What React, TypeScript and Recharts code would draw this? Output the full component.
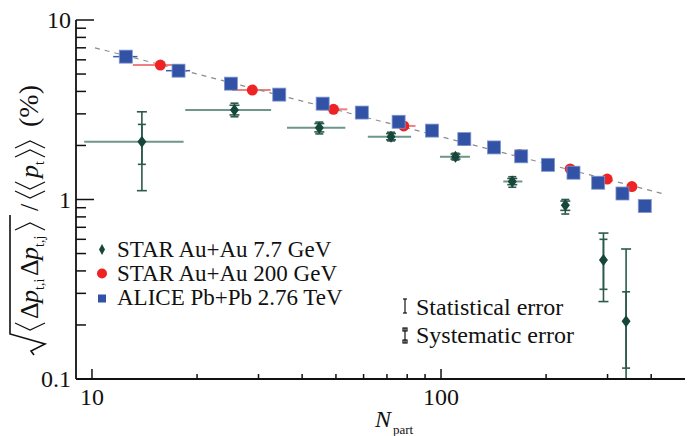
import React from "react";
import { ScatterChart, Scatter, XAxis, YAxis, ErrorBar } from "recharts";

const FONT = "'Liberation Serif', Tinos, 'DejaVu Serif', 'Times New Roman', serif";
const INK = "#111";

// STAR Au+Au 7.7 GeV
const STAR7_N = [13.9, 25.6, 44.8, 71.9, 110, 160, 227, 292, 339];
const STAR7_V = [2.1, 3.15, 2.51, 2.24, 1.73, 1.26, 0.93, 0.46, 0.21];
const STAR7_N_LO = [9.5, 18.5, 36.2, 61.7, 99.3, 150.8, 222, 287, 334];
const STAR7_N_HI = [18.3, 32.6, 53.2, 82.1, 121, 171, 233, 297, 344];
const STAR7_STAT_LO = [1.12, 2.96, 2.38, 2.15, 1.68, 1.21, 0.87, 0.27, 0.1];
const STAR7_STAT_HI = [3.08, 3.35, 2.65, 2.33, 1.79, 1.31, 0.98, 0.65, 0.53];
const STAR7_SYS_LO = [1.57, 2.89, 2.32, 2.12, 1.66, 1.17, 0.83, 0.316, 0.115];
const STAR7_SYS_HI = [2.62, 3.44, 2.7, 2.37, 1.81, 1.34, 1.0, 0.6, 0.306];

// STAR Au+Au 200 GeV
const STAR200_N = [15.7, 28.8, 49.2, 78.2, 116.8, 167.9, 234.5, 299.2, 352.2];
const STAR200_V = [5.61, 4.07, 3.18, 2.57, 2.13, 1.78, 1.48, 1.3, 1.18];
const STAR200_N_LO = [13.1, 25.2, 44.9, 73.5, 112.5, 164.5, 231, 296, 349];
const STAR200_N_HI = [18.2, 32.5, 53.9, 84.5, 121.6, 171.5, 238, 302.5, 355.5];

// ALICE Pb+Pb 2.76 TeV
const ALICE_N = [12.5, 17.7, 25.0, 34.4, 45.8, 59.3, 75.6, 94.2, 116.6, 141.8, 169.7, 202.5, 239.6, 282, 331, 383.5];
const ALICE_V = [6.25, 5.22, 4.42, 3.84, 3.42, 3.05, 2.71, 2.42, 2.17, 1.95, 1.74, 1.56, 1.41, 1.24, 1.08, 0.92];
const ALICE_N_LO = [11.5, 16.3, 24.0, 33.2, 44.3, 57.7, 73.8, 92.3, 114.5, 139.5, 167.3, 200, 237, 279, 328, 380];
const ALICE_N_HI = [13.5, 19.1, 26.0, 35.6, 47.3, 60.9, 77.4, 96.1, 118.7, 144.1, 172.1, 205, 242, 285, 334, 387];

// power-law guide line (end points)
const FIT_N = [10.2, 438];
const FIT_V = [7.0, 1.07];

const X_TICKS = [10, 20, 30, 40, 50, 60, 70, 80, 90, 100, 200, 300, 400];
const X_MAJOR = [10, 100];
const Y_TICKS = [0.1, 0.2, 0.3, 0.4, 0.5, 0.6, 0.7, 0.8, 0.9, 1, 2, 3, 4, 5, 6, 7, 8, 9, 10];
const Y_MAJOR = [0.1, 1, 10];

const LEGEND = ["STAR Au+Au 7.7 GeV", "STAR Au+Au 200 GeV", "ALICE Pb+Pb 2.76 TeV"];

const star7 = STAR7_N.map((n, i) => ({
  n,
  v: STAR7_V[i],
  nErr: [n - STAR7_N_LO[i], STAR7_N_HI[i] - n],
  stat: [STAR7_V[i] - STAR7_STAT_LO[i], STAR7_STAT_HI[i] - STAR7_V[i]],
  sys: [STAR7_V[i] - STAR7_SYS_LO[i], STAR7_SYS_HI[i] - STAR7_V[i]],
}));
const star200 = STAR200_N.map((n, i) => ({
  n,
  v: STAR200_V[i],
  nErr: [n - STAR200_N_LO[i], STAR200_N_HI[i] - n],
}));
const alice = ALICE_N.map((n, i) => ({
  n,
  v: ALICE_V[i],
  nErr: [n - ALICE_N_LO[i], ALICE_N_HI[i] - n],
}));
const fit = FIT_N.map((n, i) => ({ n, v: FIT_V[i] }));

const GREEN = "#17463a";
const RED = "#ee2424";
const BLUE = "#3252a6";

const txt = { fontFamily: FONT };

const Diamond = ({ cx, cy }: any) => (
  <polygon points={`${cx},${cy - 6} ${cx + 4.5},${cy} ${cx},${cy + 6} ${cx - 4.5},${cy}`} fill={GREEN} />
);
const Dot = ({ cx, cy }: any) => <circle cx={cx} cy={cy} r={5.5} fill={RED} />;
const Square = ({ cx, cy }: any) => (
  <rect x={cx - 6.5} y={cy - 6.5} width={13} height={13} fill={BLUE} stroke="#7f95cf" strokeWidth={0.8} />
);

function YTick({ x, y, payload }: any) {
  const major = Y_MAJOR.includes(payload.value);
  return (
    <g>
      <line x1={x} x2={x + (major ? 18 : 10)} y1={y} y2={y} stroke={INK} strokeWidth={1.5} />
      {major && (
        <text x={x - 5} y={y + 8} textAnchor="end" fontSize={24} style={txt} fill={INK}>
          {String(payload.value)}
        </text>
      )}
    </g>
  );
}

function XTick({ x, y, payload }: any) {
  const major = X_MAJOR.includes(payload.value);
  return (
    <g>
      <line x1={x} x2={x} y1={y} y2={y - (major ? 10 : 5)} stroke={INK} strokeWidth={1.5} />
      {major && (
        <text x={x} y={y + 26} textAnchor="middle" fontSize={24} style={txt} fill={INK}>
          {String(payload.value)}
        </text>
      )}
    </g>
  );
}

const lbr = (x: number) => `M${x + 7},-23 L${x},-8 L${x + 7},7`;
const rbr = (x: number) => `M${x},-23 L${x + 7},-8 L${x},7`;

function Overlay() {
  return (
    <svg width={693} height={436} style={{ position: "absolute", left: 0, top: 0, pointerEvents: "none", ...txt }}>
      {/* y-axis title */}
      <g transform="translate(38,213) rotate(-90)" fill={INK}>
        <path d="M-142,-4 L-138,-7 L-131,7 L-121,-28 L-2,-28" fill="none" stroke={INK} strokeWidth={1.6} />
        <path d={lbr(-117)} fill="none" stroke={INK} strokeWidth={1.2} />
        <text x={-106} y={0} fontSize={26} style={txt}>Δ</text>
        <text x={-90} y={0} fontSize={26} fontStyle="italic" style={txt}>p</text>
        <text x={-77} y={6} fontSize={14} style={txt}>t,i</text>
        <text x={-63} y={0} fontSize={26} style={txt}>Δ</text>
        <text x={-47} y={0} fontSize={26} fontStyle="italic" style={txt}>p</text>
        <text x={-34} y={6} fontSize={14} style={txt}>t,j</text>
        <path d={rbr(-17)} fill="none" stroke={INK} strokeWidth={1.2} />
        <text x={2} y={0} fontSize={26} style={txt}>/</text>
        <path d={lbr(15)} fill="none" stroke={INK} strokeWidth={1.2} />
        <path d={lbr(24)} fill="none" stroke={INK} strokeWidth={1.2} />
        <text x={35} y={0} fontSize={26} fontStyle="italic" style={txt}>p</text>
        <text x={48} y={6} fontSize={14} style={txt}>t</text>
        <path d={rbr(56)} fill="none" stroke={INK} strokeWidth={1.2} />
        <path d={rbr(65)} fill="none" stroke={INK} strokeWidth={1.2} />
        <text x={86} y={0} fontSize={28} style={txt}>(%)</text>
      </g>

      {/* x-axis title */}
      <text x={375} y={427} fontSize={24} fontStyle="italic" style={txt} fill={INK}>N</text>
      <text x={393} y={434} fontSize={13} style={txt} fill={INK}>part</text>

      {/* series legend */}
      <polygon points="102,244 105,249.5 102,255 99,249.5" fill={GREEN} />
      <circle cx={102} cy={273.5} r={5} fill={RED} />
      <rect x={98} y={294.5} width={8} height={8} fill={BLUE} />
      {LEGEND.map((t, i) => (
        <text key={t} x={117} y={257 + i * 24} fontSize={23} style={txt} fill={INK}>
          {t}
        </text>
      ))}

      {/* error legend */}
      <g stroke={INK} strokeWidth={1.2} fill="none">
        <line x1={405} x2={405} y1={299} y2={313} />
        <line x1={403} x2={407} y1={299} y2={299} />
        <line x1={403} x2={407} y1={313} y2={313} />
        <line x1={405} x2={405} y1={328} y2={343} />
        <rect x={403} y={328} width={4} height={3} />
        <rect x={403} y={340} width={4} height={3} />
      </g>
      <text x={416} y={315} fontSize={24} style={txt} fill={INK}>Statistical error</text>
      <text x={416} y={343} fontSize={24} style={txt} fill={INK}>Systematic error</text>
    </svg>
  );
}

export default function App() {
  return (
    <div style={{ position: "absolute", left: 0, top: 0, width: 693, height: 436, background: "#fff" }}>
      <ScatterChart width={693} height={436} margin={{ top: 20, right: 8, bottom: 0, left: 0 }}>
        <XAxis
          dataKey="n"
          type="number"
          scale="log"
          domain={[9, 500]}
          allowDataOverflow
          ticks={X_TICKS}
          interval={0}
          height={57}
          tickSize={0}
          tickMargin={0}
          tickLine={false}
          tick={<XTick />}
          axisLine={{ stroke: INK, strokeWidth: 1.8 }}
        />
        <XAxis
          xAxisId="top"
          orientation="top"
          type="number"
          scale="log"
          domain={[9, 500]}
          allowDataOverflow
          height={0}
          tick={false}
          tickLine={false}
          axisLine={{ stroke: INK, strokeWidth: 1.8 }}
        />
        <YAxis
          dataKey="v"
          type="number"
          scale="log"
          domain={[0.1, 10]}
          allowDataOverflow
          ticks={Y_TICKS}
          interval={0}
          width={76}
          tickSize={0}
          tickMargin={0}
          tickLine={false}
          tick={<YTick />}
          axisLine={{ stroke: INK, strokeWidth: 1.8 }}
        />
        <YAxis
          yAxisId="right"
          orientation="right"
          type="number"
          scale="log"
          domain={[0.1, 10]}
          allowDataOverflow
          width={0}
          tick={false}
          tickLine={false}
          axisLine={{ stroke: INK, strokeWidth: 1.8 }}
        />
        <Scatter
          data={fit}
          dataKey="v"
          line={{ stroke: "#8c8c8c", strokeWidth: 1.2, strokeDasharray: "5 5" }}
          shape={() => <g />}
          isAnimationActive={false}
        />
        <Scatter data={star7} dataKey="v" shape={<Diamond />} isAnimationActive={false}>
          <ErrorBar dataKey="nErr" direction="x" width={0} stroke="#6e968a" strokeWidth={2} />
          <ErrorBar dataKey="stat" direction="y" width={5} stroke="#2c5a4c" strokeWidth={1.6} />
          <ErrorBar dataKey="sys" direction="y" width={4} stroke="#2c5a4c" strokeWidth={1.6} />
        </Scatter>
        <Scatter data={star200} dataKey="v" shape={<Dot />} isAnimationActive={false}>
          <ErrorBar dataKey="nErr" direction="x" width={0} stroke="#f07f7f" strokeWidth={2} />
        </Scatter>
        <Scatter data={alice} dataKey="v" shape={<Square />} isAnimationActive={false}>
          <ErrorBar dataKey="nErr" direction="x" width={0} stroke="#3a5bb0" strokeWidth={1.5} />
        </Scatter>
      </ScatterChart>
      <Overlay />
    </div>
  );
}
